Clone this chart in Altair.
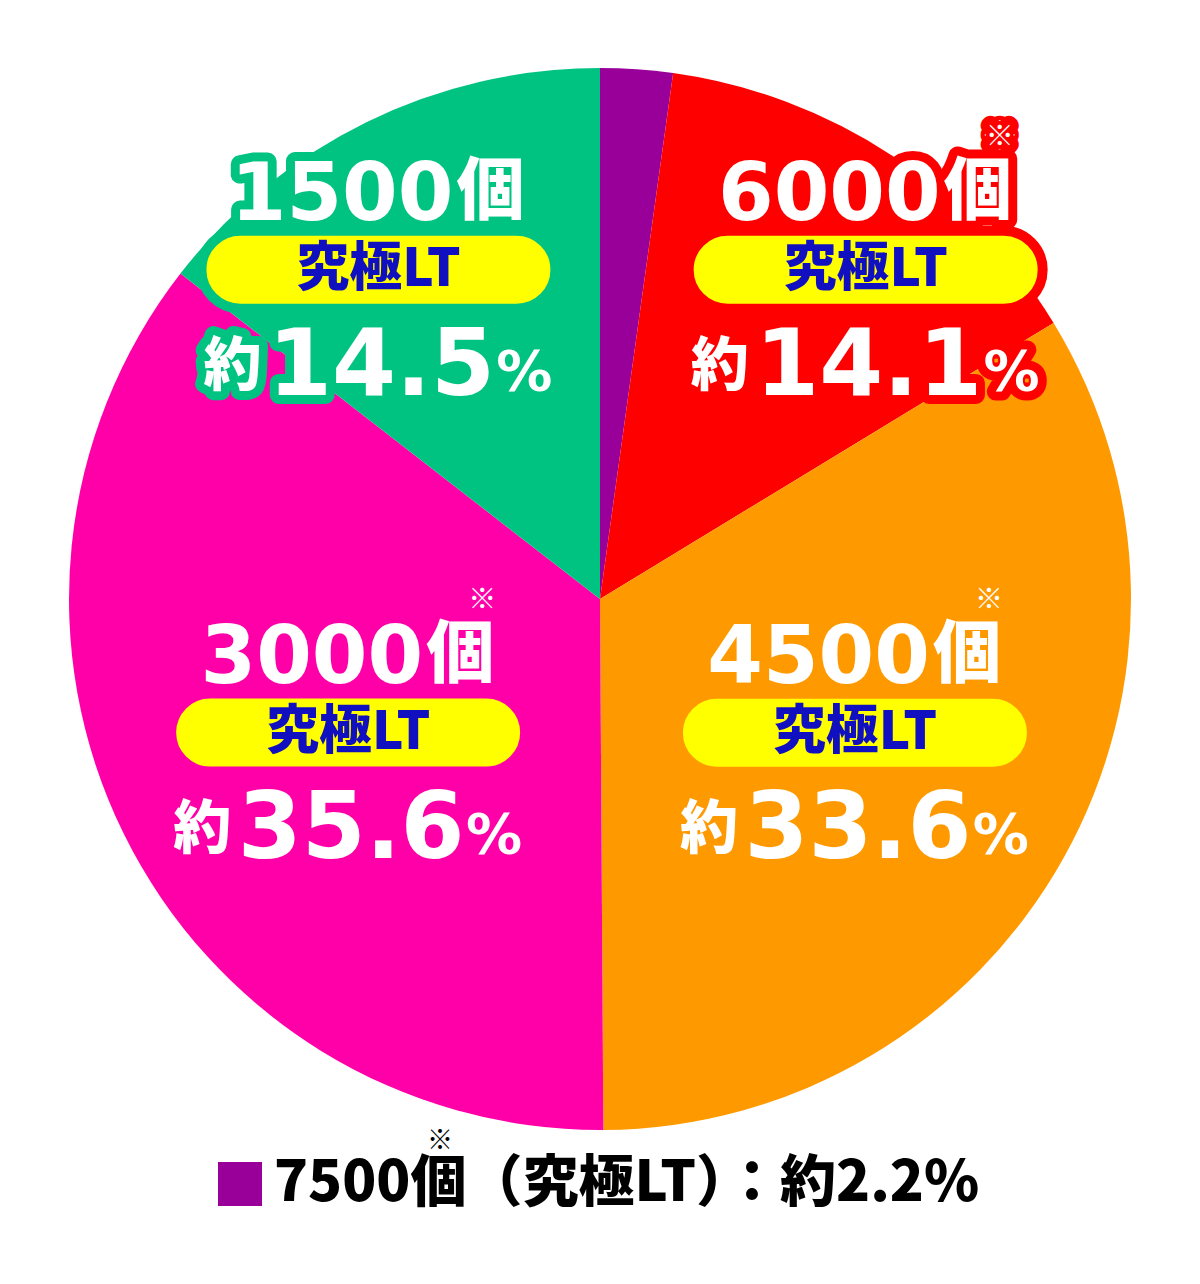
import altair as alt
import pandas as pd

# ---------------- data ----------------
counts = [7500, 6000, 4500, 3000, 1500]
shares = [2.2, 14.1, 33.6, 35.6, 14.5]
notes = ["※", "※", "※", "※", ""]
colors = ["#990099", "#FF0000", "#FF9900", "#FF00A8", "#00C382"]
unit = "個"
tag = "究極LT"
approx = "約"
pct_sign = "%"

categories = [f"{c}{unit}" for c in counts]

df = pd.DataFrame({
    "idx": list(range(len(counts))),
    "count": [str(c) for c in counts],
    "category": categories,
    "share": shares,
    "note": notes,
})

# ---------------- layout / style ----------------
W, H = 1184, 1262
CX, CY, R = 592, 591, 531
LR = 340
OFFX = [0, 79, -42, 53, -72]
OFFY = [0, -45, -32, -17, -24]
YELLOW = "#FFFF00"
BLUE = "#1010C0"
LATIN = "DejaVu Sans"
CJK = "Noto Sans CJK JP"
WEIGHT = 900

PILL_W, PILL_H = 354, 78
h = PILL_H / PILL_W
a = 1 - h
k = 0.5523 * h


def f(v):
    return f"{v:.4f}"


PILL_PATH = (
    f"M{f(-a)},{f(-h)}L{f(a)},{f(-h)}"
    f"C{f(a + k)},{f(-h)},{f(a + h)},{f(-k)},{f(a + h)},0"
    f"C{f(a + h)},{f(k)},{f(a + k)},{f(h)},{f(a)},{f(h)}"
    f"L{f(-a)},{f(h)}"
    f"C{f(-a - k)},{f(h)},{f(-a - h)},{f(k)},{f(-a - h)},0"
    f"C{f(-a - h)},{f(-k)},{f(-a - k)},{f(-h)},{f(-a)},{f(-h)}Z"
)

color_scale = alt.Scale(domain=categories, range=colors)

base = alt.Chart(df)

legend = alt.Legend(
    values=[categories[0]],
    orient="none",
    legendX=204,
    legendY=1148,
    padding=0,
    title=None,
    symbolType="square",
    symbolSize=44 * 44,
    symbolStrokeWidth=0,
    symbolOpacity=1,
    labelFont=CJK,
    labelFontSize=56,
    labelFontWeight=WEIGHT,
    labelColor="black",
    labelOffset=6,
    labelLimit=1200,
    labelExpr=f"datum.label + '（{tag}）：{approx}{shares[0]}{pct_sign}'",
)

pie = base.mark_arc(outerRadius=R).encode(
    theta=alt.Theta("share:Q", stack=True),
    color=alt.Color("category:N", scale=color_scale, legend=legend),
    order=alt.Order("idx:Q"),
    x=alt.value(CX),
    y=alt.value(CY),
)

lab = (
    base.transform_joinaggregate(total="sum(share)")
    .transform_window(cum="sum(share)", sort=[alt.SortField("idx")], frame=[None, 0])
    .transform_calculate(mid="2*PI*(datum.cum - datum.share/2)/datum.total")
    .transform_calculate(ax=f"{CX} + {LR}*sin(datum.mid) + {OFFX}[datum.idx]")
    .transform_calculate(ay=f"{CY} - {LR}*cos(datum.mid) + {OFFY}[datum.idx]")
    .transform_calculate(pct="format(datum.share, '.1f')")
    .transform_filter("datum.idx > 0")
)

XY = dict(
    x=alt.X("ax:Q", scale=None, axis=None),
    y=alt.Y("ay:Q", scale=None, axis=None),
)


def text_layer(src, *, font, size, dx, dy, text=None, field=None, align="center",
               baseline="alphabetic", outline=False, color="white"):
    kw = dict(font=font, fontSize=size, fontWeight=WEIGHT, dx=dx, dy=dy,
              align=align, baseline=baseline)
    if text is not None:
        kw["text"] = text
    if outline:
        kw.update(strokeWidth=18, strokeJoin="round")
    else:
        kw["color"] = color
    enc = dict(XY)
    if field is not None:
        enc["text"] = alt.Text(f"{field}:N")
    if outline:
        enc["stroke"] = alt.Stroke("category:N", scale=color_scale, legend=None)
        enc["fill"] = alt.Fill("category:N", scale=color_scale, legend=None)
    return src.mark_text(**kw).encode(**enc)


noted = lab.transform_filter("datum.note != ''")

specs = [
    dict(src=lab, field="count", font=LATIN, size=80, dx=75, dy=-50, align="right"),
    dict(src=lab, text=unit, font=CJK, size=68, dx=78, dy=-56, align="left"),
    dict(src=noted, field="note", font=CJK, size=28, dx=134, dy=-132, baseline="middle"),
    dict(src=lab, text=approx, font=CJK, size=58, dx=-146, dy=115),
    dict(src=lab, field="pct", font=LATIN, size=92, dx=3, dy=125),
    dict(src=lab, text=pct_sign, font=LATIN, size=56, dx=146, dy=120),
]

outlines = [text_layer(outline=True, **s) for s in specs]
fills = [text_layer(outline=False, **s) for s in specs]

pill = lab.mark_point(
    shape=PILL_PATH, size=PILL_W * PILL_W, filled=True, fill=YELLOW,
    opacity=1, strokeWidth=10, strokeOpacity=1,
).encode(
    stroke=alt.Stroke("category:N", scale=color_scale, legend=None),
    **XY,
)

pill_text = lab.mark_text(
    text=tag, font=CJK, fontSize=53, fontWeight=WEIGHT, color=BLUE,
    align="center", baseline="middle", dy=0,
).encode(**XY)

legend_note = base.transform_filter("datum.idx == 0").mark_text(
    font=CJK, fontSize=26, color="black", align="center", baseline="middle",
).encode(x=alt.value(432), y=alt.value(1133), text="note:N")

chart = alt.layer(pie, *outlines, pill, *fills, pill_text, legend_note).properties(
    width=W, height=H, padding=0
).configure_view(strokeWidth=0)

chart.save("out.html", embed_options={"renderer": "svg", "actions": False})
